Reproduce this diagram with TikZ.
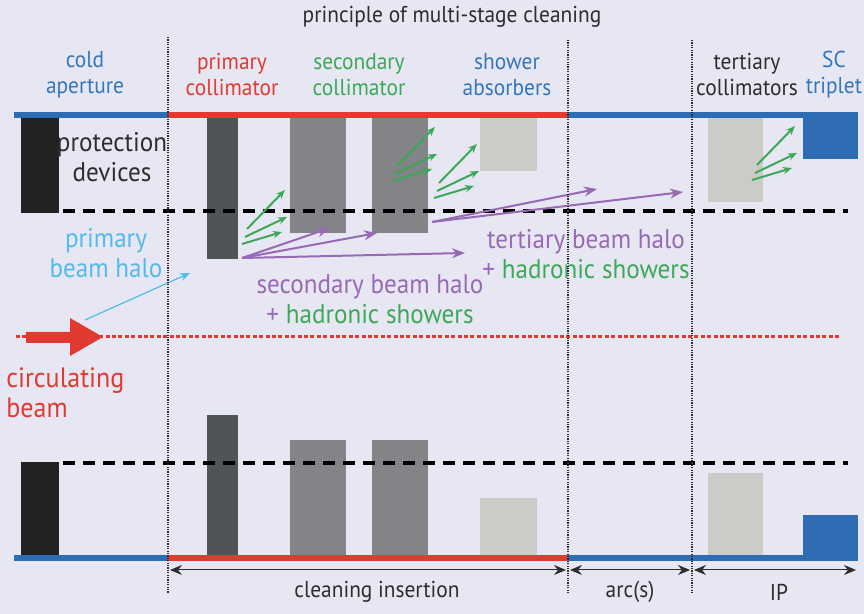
\documentclass[tikz,border=0pt]{standalone}
\usepackage{fontspec}
\setmainfont{PT Sans}[FakeStretch=0.93]
\usetikzlibrary{arrows.meta}
\definecolor{bgcol}{RGB}{230,231,243}
\definecolor{lineblue}{RGB}{46,109,180}
\definecolor{txtblue}{RGB}{52,118,190}
\definecolor{beamred}{RGB}{224,58,49}
\definecolor{coldap}{RGB}{34,34,34}
\definecolor{tcpgrey}{RGB}{80,84,87}
\definecolor{tcsgrey}{RGB}{131,132,135}
\definecolor{tclgrey}{RGB}{203,203,200}
\definecolor{shgreen}{RGB}{60,168,88}
\definecolor{halopurple}{RGB}{152,106,180}
\definecolor{halocyan}{RGB}{84,186,234}
\definecolor{txtdark}{RGB}{45,45,45}
\tikzset{
  lbl/.style={align=center, inner sep=0pt, font=\fontsize{11.5}{13}\selectfont},
  biglbl/.style={align=center, inner sep=0pt, font=\fontsize{13.5}{15}\selectfont},
  shower/.style={shgreen, line width=1pt, -{Stealth[length=4.5pt,width=3.6pt]}},
  halo/.style={halopurple, line width=1pt, -{Stealth[length=6.5pt,width=5pt]}},
  dim/.style={txtdark, line width=0.5pt, {Stealth[length=6pt,width=5pt]}-{Stealth[length=6pt,width=5pt]}},
  aper/.style={black, line width=1.6pt, dash pattern=on 6pt off 4pt},
  sect/.style={txtdark, line width=0.6pt, dash pattern=on 0.6pt off 0.6pt}
}

\begin{document}
\begin{tikzpicture}[x=0.5pt, y=-0.5pt]
  \useasboundingbox (0,0) rectangle (864,614);
  \fill[bgcol] (0,0) rectangle (864,614);
  % jaws, upper and lower half of the aperture
  \foreach \xa/\xb/\yt/\yb/\c in {21/59/213/462/coldap, 207/238/259/415/tcpgrey,
      290/346/233/440/tcsgrey, 372/428/233/440/tcsgrey, 480/537/171/498/tclgrey,
      708/763/202/473/tclgrey, 803/858/159/515/lineblue} {
    \fill[\c] (\xa,118) rectangle (\xb,\yt);
    \fill[\c] (\xa,\yb) rectangle (\xb,555);
  }
  % vacuum chamber
  \foreach \y in {112,555} {
    \fill[lineblue] (14,\y) rectangle (168,\y+6);
    \fill[beamred] (168,\y) rectangle (568,\y+6);
    \fill[lineblue] (568,\y) rectangle (858,\y+6);
  }
  \draw[aper] (63,211) -- (848,211);
  \draw[aper] (63,463) -- (848,463);
  \draw[beamred, line width=1.5pt, dash pattern=on 2pt off 1.2pt] (16,337) -- (839,337);
  \fill[beamred] (26,332) -- (70,332) -- (70,318) -- (103,337) -- (70,356)
    -- (70,343) -- (26,343) -- cycle;

  \node[lbl, txtdark] (title) at (452,17) {principle of multi-stage cleaning};
  \node[lbl, txtblue] (cold) at (85,75) {cold\\aperture};
  \node[lbl, beamred] (prim) at (232,75) {primary\\collimator};
  \node[lbl, shgreen] (sec) at (359,75) {secondary\\collimator};
  \node[lbl, txtblue] (absb) at (507,75) {shower\\absorbers};
  \node[lbl, txtdark] (tert) at (747,75) {tertiary\\collimators};
  \node[lbl, txtblue] (trip) at (834,75) {SC\\triplet};
  \node[biglbl, txtdark] (prot) at (112,157) {protection\\devices};
  \node[biglbl, halocyan] (phalo) at (106,253) {primary\\beam halo};
  \node[biglbl, beamred, align=left, anchor=west, font=\fontsize{14}{15}\selectfont]
    (circ) at (6,393) {circulating\\beam};
  \node[biglbl, halopurple] (shalo) at (370,299)
    {secondary beam halo\\+ \textcolor{shgreen}{hadronic showers}};
  \node[biglbl, halopurple] (thalo) at (586,254)
    {tertiary beam halo\\+ \textcolor{shgreen}{hadronic showers}};

  % halo and showers
  \draw[halocyan, line width=0.6pt, -{Stealth[length=5pt,width=4pt]}] (85,320) -- (190,273);
  \coordinate (tcpout) at (242,258);
  \coordinate (tcsout) at (432,222);
  \foreach \x/\y in {330/228, 377/233, 465/253}
    \draw[halo] (tcpout) -- (\x,\y);
  \foreach \x/\y in {597/189, 683/192}
    \draw[halo] (tcsout) -- (\x,\y);
  \foreach \x/\y in {247/229, 397/166, 439/183, 757/165} {
    \draw[shower] (\x,\y) -- ++(38,-39);
    \draw[shower] (\x-2,\y+8) -- ++(42,-20);
    \draw[shower] (\x-5,\y+15) -- ++(40,-12);
  }

  % sections
  \foreach \x/\y in {168/37, 568/40, 692/40}
    \draw[sect] (\x,\y) -- (\x,593);
  \draw[dim] (170,570) -- (566,570);
  \draw[dim] (570,570) -- (690,570);
  \draw[dim] (694,570) -- (856,570);
  \node[lbl, txtdark] (clean) at (377,592) {cleaning insertion};
  \node[lbl, txtdark] (arcs) at (630,592) {arc(s)};
  \node[lbl, txtdark] (ip) at (779,592) {IP};
\end{tikzpicture}
\end{document}
